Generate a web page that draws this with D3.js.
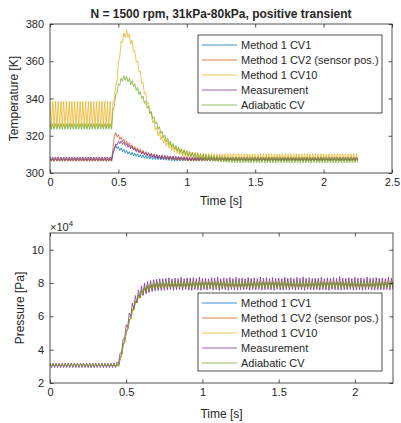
<!DOCTYPE html>
<html><head><meta charset="utf-8">
<script src="https://cdn.jsdelivr.net/npm/d3@7"></script>
<style>
body{margin:0;background:#fff}
svg text{font-family:"Liberation Sans",Arial,Helvetica,sans-serif;fill:#262626}
</style>
</head><body>
<svg id="chart" width="401" height="423"></svg>
<script>
// ---------------- DATA ----------------
const seriesNames = ["Method 1 CV1","Method 1 CV2 (sensor pos.)","Method 1 CV10","Measurement","Adiabatic CV"];
const seriesColors = ["#0072BD","#D95319","#EDB120","#7E2F8E","#77AC30"];
const chartTitle = "N = 1500 rpm, 31kPa-80kPa, positive transient";
const timeStep = 0.01; // s between samples, first sample at t = 0

// Temperature [K]
const T_CV1 = [
307.6,306.4,307.6,306.4,307.6,306.4,307.6,306.4,307.6,306.4,
307.6,306.4,307.6,306.4,307.6,306.4,307.6,306.4,307.6,306.4,
307.6,306.4,307.6,306.4,307.6,306.4,307.6,306.4,307.6,306.4,
307.6,306.4,307.6,306.4,307.6,306.4,307.6,306.4,307.6,306.4,
307.6,306.4,307.6,306.4,307.6,306.4,
310.8,313.2,315,313,314.2,312.2,313.4,311.4,312.7,310.8,
312.1,310.2,311.5,309.7,311.1,309.3,310.7,308.9,310.3,308.5,
309.9,308.2,309.6,307.9,309.4,307.7,309.2,307.5,309,307.3,
308.8,307.2,308.7,307.1,308.6,307,308.5,306.9,308.4,306.8,
308.3,306.7,308.2,306.6,308.2,
306.4,307.8,306.4,307.8,306.4,307.8,306.4,307.8,306.4,307.8,
306.4,307.8,306.4,307.8,306.4,307.8,306.4,307.8,306.4,307.8,
306.4,307.8,306.4,307.8,306.4,307.8,306.4,307.8,306.4,307.8,
306.4,307.8,306.4,307.8,306.4,307.8,306.4,307.8,306.4,307.8,
306.4,307.8,306.4,307.8,306.4,307.8,306.4,307.8,306.4,307.8,
306.4,307.8,306.4,307.8,306.4,307.8,306.4,307.8,306.4,307.8,
306.4,307.8,306.4,307.8,306.4,307.8,306.4,307.8,306.4,307.8,
306.4,307.8,306.4,307.8,306.4,307.8,306.4,307.8,306.4,307.8,
306.4,307.8,306.4,307.8,306.4,307.8,306.4,307.8,306.4,307.8,
306.4,307.8,306.4,307.8,306.4,307.8,306.4,307.8,306.4,307.8,
306.4,307.8,306.4,307.8,306.4,307.8,306.4,307.8,306.4,307.8,
306.4,307.8,306.4,307.8,306.4,307.8,306.4,307.8,306.4,307.8,
306.4,307.8,306.4,307.8,306.4,307.8,306.4,307.8,306.4,307.8,
306.4,307.8,306.4,307.8,306.4
];
const T_CV2 = [
307.8,306.3,307.8,306.3,307.8,306.3,307.8,306.3,307.8,306.3,
307.8,306.3,307.8,306.3,307.8,306.3,307.8,306.3,307.8,306.3,
307.8,306.3,307.8,306.3,307.8,306.3,307.8,306.3,307.8,306.3,
307.8,306.3,307.8,306.3,307.8,306.3,307.8,306.3,307.8,306.3,
307.8,306.3,307.8,306.3,307.8,306.3,
312.9,319.6,321.7,319.4,320.6,318.1,319.3,316.9,318.1,315.8,
317.1,314.8,316.1,313.8,315.1,312.8,314.2,312,313.4,311.2,
312.7,310.6,312.1,310,311.5,309.5,311,309,310.6,308.6,
310.2,308.2,309.9,307.9,309.6,307.7,309.4,307.5,309.2,307.3,
309,307.2,308.9,307.1,308.8,307,308.7,306.9,308.6,306.8,
308.5,306.7,308.4,306.6,308.3,
306.4,308,306.4,308,306.4,308,306.4,308,306.4,308,
306.4,308,306.4,308,306.4,308,306.4,308,306.4,308,
306.4,308,306.4,308,306.4,308,306.4,308,306.4,308,
306.4,308,306.4,308,306.4,308,306.4,308,306.4,308,
306.4,308,306.4,308,306.4,308,306.4,308,306.4,308,
306.4,308,306.4,308,306.4,308,306.4,308,306.4,308,
306.4,308,306.4,308,306.4,308,306.4,308,306.4,308,
306.4,308,306.4,308,306.4,308,306.4,308,306.4,308,
306.4,308,306.4,308,306.4,308,306.4,308,306.4,308,
306.4,308,306.4,308,306.4,308,306.4,308,306.4,308,
306.4,308,306.4,308,306.4,308,306.4,308,306.4,308,
306.4,308,306.4,308,306.4,308,306.4,308,306.4,308,
306.4,308,306.4,308,306.4
];
const T_CV10 = [
338.5,324.5,338.5,324.5,338.5,324.5,338.5,324.5,338.5,324.5,
338.5,324.5,338.5,324.5,338.5,324.5,338.5,324.5,338.5,324.5,
338.5,324.5,338.5,324.5,338.5,324.5,338.5,324.5,338.5,324.5,
338.5,324.5,338.5,324.5,338.5,324.5,338.5,324.5,338.5,324.5,
338.5,324.5,338.5,324.5,338.5,324.5,
338.7,339.3,346.7,349.3,359.7,362.3,370.7,369.8,375.2,372.8,
376.7,372.8,374.7,369.3,371.2,365.3,365.7,359.6,360.2,354.1,
354.7,348.3,348.7,342.5,343.2,337,337.7,331.8,332.7,327,
328.2,323,324.7,320,322.2,317.8,320.2,316,318.7,314.5,
317.2,313.2,316,312.1,315,311.2,314.2,310.4,313.5,309.8,
312.9,309.2,312.4,308.8,312,308.4,311.6,308.1,311.3,307.8,
311.1,307.6,310.9,307.4,310.7,307.2,310.6,307.1,310.5,307.1,
310.4,307,310.4,306.9,310.3,
306.9,310.3,306.9,310.3,306.9,310.3,306.9,310.3,306.9,310.3,
306.9,310.3,306.9,310.3,306.9,310.3,306.9,310.3,306.9,310.3,
306.9,310.3,306.9,310.3,306.9,310.3,306.9,310.3,306.9,310.3,
306.9,310.3,306.9,310.3,306.9,310.3,306.9,310.3,306.9,310.3,
306.9,310.3,306.9,310.3,306.9,310.3,306.9,310.3,306.9,310.3,
306.9,310.3,306.9,310.3,306.9,310.3,306.9,310.3,306.9,310.3,
306.9,310.3,306.9,310.3,306.9,310.3,306.9,310.3,306.9,310.3,
306.9,310.3,306.9,310.3,306.9,310.3,306.9,310.3,306.9,310.3,
306.9,310.3,306.9,310.3,306.9,310.3,306.9,310.3,306.9,310.3,
306.9,310.3,306.9,310.3,306.9,310.3,306.9,310.3,306.9,310.3,
306.9,310.3,306.9,310.3,306.9
];
const T_meas = [
308.6,307.2,308.6,307.2,308.6,307.2,308.6,307.2,308.6,307.2,
308.6,307.2,308.6,307.2,308.6,307.2,308.6,307.2,308.6,307.2,
308.6,307.2,308.6,307.2,308.6,307.2,308.6,307.2,308.6,307.2,
308.6,307.2,308.6,307.2,308.6,307.2,308.6,307.2,308.6,307.2,
308.6,307.2,308.6,307.2,308.6,307.2,
310.8,312.2,315.6,315,317.1,315.7,317.2,315.3,316.6,314.6,
315.8,313.8,315,313,314.2,312.2,313.4,311.4,312.7,310.8,
312.1,310.2,311.5,309.7,311.1,309.3,310.7,308.9,310.3,308.5,
310,308.3,309.8,308.1,309.6,307.9,309.5,307.8,309.4,307.7,
309.3,307.6,309.2,307.5,309.1,307.4,309,307.3,308.9,307.3,
308.8,307.2,308.8,307.2,308.7,
307,308.4,307,308.4,307,308.4,307,308.4,307,308.4,
307,308.4,307,308.4,307,308.4,307,308.4,307,308.4,
307,308.4,307,308.4,307,308.4,307,308.4,307,308.4,
307,308.4,307,308.4,307,308.4,307,308.4,307,308.4,
307,308.4,307,308.4,307,308.4,307,308.4,307,308.4,
307,308.4,307,308.4,307,308.4,307,308.4,307,308.4,
307,308.4,307,308.4,307,308.4,307,308.4,307,308.4,
307,308.4,307,308.4,307,308.4,307,308.4,307,308.4,
307,308.4,307,308.4,307,308.4,307,308.4,307,308.4,
307,308.4,307,308.4,307,308.4,307,308.4,307,308.4,
307,308.4,307,308.4,307,308.4,307,308.4,307,308.4,
307,308.4,307,308.4,307,308.4,307,308.4,307,308.4,
307,308.4,307,308.4,307
];
const T_adia = [
326.5,323.5,326.5,323.5,326.5,323.5,326.5,323.5,326.5,323.5,
326.5,323.5,326.5,323.5,326.5,323.5,326.5,323.5,326.5,323.5,
326.5,323.5,326.5,323.5,326.5,323.5,326.5,323.5,326.5,323.5,
326.5,323.5,326.5,323.5,326.5,323.5,326.5,323.5,326.5,323.5,
326.5,323.5,326.5,323.5,326.5,323.5,
333.3,335.7,342.3,342.7,347.8,347,351,349.3,352.3,349.7,
352,348.9,350.8,347.4,349.6,346.2,347.9,344.3,345.9,342.2,
343.7,339.9,341.3,337.4,338.7,334.7,335.9,331.9,333.1,329.1,
330.3,326.3,327.5,323.6,324.9,321.1,322.5,318.8,320.4,316.9,
318.7,315.3,317.2,313.9,315.9,312.7,314.8,311.7,313.9,310.9,
313.1,310.2,312.5,309.6,311.9,309.1,311.5,308.7,311.1,308.3,
310.7,308,310.4,307.7,310.1,307.2,310.1,307,309.9,306.8,
309.7,306.6,309.5,306.4,309.3,306.2,309.1,306,309,305.9,
308.9,305.8,308.8,305.7,308.7,305.6,
308.5,305.5,308.5,305.5,308.5,305.5,308.5,305.5,308.5,305.5,
308.5,305.5,308.5,305.5,308.5,305.5,308.5,305.5,308.5,305.5,
308.5,305.5,308.5,305.5,308.5,305.5,308.5,305.5,308.5,305.5,
308.5,305.5,308.5,305.5,308.5,305.5,308.5,305.5,308.5,305.5,
308.5,305.5,308.5,305.5,308.5,305.5,308.5,305.5,308.5,305.5,
308.5,305.5,308.5,305.5,308.5,305.5,308.5,305.5,308.5,305.5,
308.5,305.5,308.5,305.5,308.5,305.5,308.5,305.5,308.5,305.5,
308.5,305.5,308.5,305.5,308.5,305.5,308.5,305.5,308.5,305.5,
308.5,305.5,308.5,305.5,308.5,305.5,308.5,305.5,308.5,305.5,
308.5,305.5,308.5,305.5
];

// Pressure [Pa]
const P_CV1 = [
31100,30300,31100,30300,31100,30300,31100,30300,31100,30300,
31100,30300,31100,30300,31100,30300,31100,30300,31100,30300,
31100,30300,31100,30300,31100,30300,31100,30300,31100,30300,
31100,30300,31100,30300,31100,30300,31100,30300,31100,30300,
31100,30300,31100,30300,31100,30300,
34900,36900,42900,44900,50900,52400,58100,58700,64300,64000,
69200,68200,73000,71200,75700,73300,77600,74700,78800,75600,
79500,76200,80000,76600,80300,76800,80500,77000,80700,77100,
80500,77600,80500,77600,80500,77600,80500,77600,80500,77600,
80500,77600,80500,77600,80500,77600,80500,77600,80500,77600,
80500,77600,80500,77600,80500,77600,80500,77600,80500,77600,
80500,77600,80500,77600,80500,77600,80500,77600,80500,77600,
80500,77600,80500,77600,80500,77600,80500,77600,80500,77600,
80500,77600,80500,77600,80500,77600,80500,77600,80500,77600,
80500,77600,80500,77600,80500,77600,80500,77600,80500,77600,
80500,77600,80500,77600,80500,77600,80500,77600,80500,77600,
80500,77600,80500,77600,80500,77600,80500,77600,80500,77600,
80500,77600,80500,77600,80500,77600,80500,77600,80500,77600,
80500,77600,80500,77600,80500,77600,80500,77600,80500,77600,
80500,77600,80500,77600,80500,77600,80500,77600,80500,77600,
80500,77600,80500,77600,80500,77600,80500,77600,80500,77600,
80500,77600,80500,77600,80500,77600,80500,77600,80500,77600,
80500,77600,80500,77600,80500,77600,80500,77600,80500,77600
];
const P_CV2 = [
31200,30200,31200,30200,31200,30200,31200,30200,31200,30200,
31200,30200,31200,30200,31200,30200,31200,30200,31200,30200,
31200,30200,31200,30200,31200,30200,31200,30200,31200,30200,
31200,30200,31200,30200,31200,30200,31200,30200,31200,30200,
31200,30200,31200,30200,31200,30200,
34700,36700,42700,44700,50700,52200,57900,58500,64100,63800,
69000,68000,72800,71000,75500,73100,77400,74500,78600,75400,
79300,76000,79800,76400,80100,76600,80300,76800,80500,76900,
80600,77500,80600,77500,80600,77500,80600,77500,80600,77500,
80600,77500,80600,77500,80600,77500,80600,77500,80600,77500,
80600,77500,80600,77500,80600,77500,80600,77500,80600,77500,
80600,77500,80600,77500,80600,77500,80600,77500,80600,77500,
80600,77500,80600,77500,80600,77500,80600,77500,80600,77500,
80600,77500,80600,77500,80600,77500,80600,77500,80600,77500,
80600,77500,80600,77500,80600,77500,80600,77500,80600,77500,
80600,77500,80600,77500,80600,77500,80600,77500,80600,77500,
80600,77500,80600,77500,80600,77500,80600,77500,80600,77500,
80600,77500,80600,77500,80600,77500,80600,77500,80600,77500,
80600,77500,80600,77500,80600,77500,80600,77500,80600,77500,
80600,77500,80600,77500,80600,77500,80600,77500,80600,77500,
80600,77500,80600,77500,80600,77500,80600,77500,80600,77500,
80600,77500,80600,77500,80600,77500,80600,77500,80600,77500,
80600,77500,80600,77500,80600,77500,80600,77500,80600,77500
];
const P_CV10 = [
31300,30100,31300,30100,31300,30100,31300,30100,31300,30100,
31300,30100,31300,30100,31300,30100,31300,30100,31300,30100,
31300,30100,31300,30100,31300,30100,31300,30100,31300,30100,
31300,30100,31300,30100,31300,30100,31300,30100,31300,30100,
31300,30100,31300,30100,31300,30100,
34500,36500,42500,44500,50500,52000,57700,58300,63900,63600,
68800,67800,72600,70800,75300,72900,77300,74400,78600,75400,
79400,76100,80000,76600,80400,76800,80600,77000,80900,77100,
81100,77100,81100,77100,81100,77100,81100,77100,81100,77100,
81100,77100,81100,77100,81100,77100,81100,77100,81100,77100,
81100,77100,81100,77100,81100,77100,81100,77100,81100,77100,
81100,77100,81100,77100,81100,77100,81100,77100,81100,77100,
81100,77100,81100,77100,81100,77100,81100,77100,81100,77100,
81100,77100,81100,77100,81100,77100,81100,77100,81100,77100,
81100,77100,81100,77100,81100,77100,81100,77100,81100,77100,
81100,77100,81100,77100,81100,77100,81100,77100,81100,77100,
81100,77100,81100,77100,81100,77100,81100,77100,81100,77100,
81100,77100,81100,77100,81100,77100,81100,77100,81100,77100,
81100,77100,81100,77100,81100,77100,81100,77100,81100,77100,
81100,77100,81100,77100,81100,77100,81100,77100,81100,77100,
81100,77100,81100,77100,81100,77100,81100,77100,81100,77100,
81100,77100,81100,77100,81100,77100,81100,77100,81100,77100,
81100,77100,81100,77100,81100,77100,81100,77100,81100,77100
];
const P_meas = [
32000,29200,32000,29200,32000,29200,32000,29200,32000,29200,
32000,29200,32000,29200,32000,29200,32000,29200,32000,29200,
32000,29200,32000,29200,32000,29200,32000,29200,32000,29200,
32000,29200,32000,29200,32000,29200,32000,29200,32000,29200,
32000,29200,32000,29200,32500,31500,
38000,38000,46500,46500,55000,53500,62000,60000,68000,64500,
72500,68200,75700,71000,78300,72500,80000,73500,80900,74300,
81500,74800,82000,75200,82300,75400,82500,75500,82600,75600,
82800,75800,83200,76000,82500,75600,83000,75900,82700,76100,
83400,75700,82600,76200,83100,75800,82900,75500,83300,76000,
82700,75900,83600,75600,82800,76100,83000,75800,82500,76300,
83200,75700,82900,76000,83700,75500,82600,76200,83100,75900,
82800,75600,83300,76100,82700,75800,83500,75700,82900,76000,
83000,75900,82600,76200,83400,75600,82800,76000,83100,75800,
82700,76100,83600,75700,82900,75900,83200,76000,82600,75800,
83300,75600,82800,76200,83000,75900,82700,75700,83500,76000,
82900,75800,83100,76100,82600,75700,83400,75900,82800,76000,
83700,75600,82900,76200,83200,75800,82700,75900,83000,76100,
82800,75700,83500,76000,82600,75800,83100,75600,82900,76200,
83300,75900,82700,75800,83800,75700,83000,76000,82800,75900,
83200,76100,82600,75700,83400,75800,82900,76000,83100,75600,
82700,75900,83600,76200,82800,75800,83000,75700,83300,76000,
82900,75900,83100,75800,82700,76100,83400,75700,83000,75900
];
const P_adia = [
31400,30000,31400,30000,31400,30000,31400,30000,31400,30000,
31400,30000,31400,30000,31400,30000,31400,30000,31400,30000,
31400,30000,31400,30000,31400,30000,31400,30000,31400,30000,
31400,30000,31400,30000,31400,30000,31400,30000,31400,30000,
31400,30000,31400,30000,31400,30000,
35000,37000,43000,45000,51000,52500,58200,58800,64400,64100,
69300,68300,73100,71300,75800,73400,77700,74800,78900,75700,
79600,76300,80100,76700,80400,76900,80600,77100,80800,77200,
80900,77300,80900,77300,80900,77300,80900,77300,80900,77300,
80900,77300,80900,77300,80900,77300,80900,77300,80900,77300,
80900,77300,80900,77300,80900,77300,80900,77300,80900,77300,
80900,77300,80900,77300,80900,77300,80900,77300,80900,77300,
80900,77300,80900,77300,80900,77300,80900,77300,80900,77300,
80900,77300,80900,77300,80900,77300,80900,77300,80900,77300,
80900,77300,80900,77300,80900,77300,80900,77300,80900,77300,
80900,77300,80900,77300,80900,77300,80900,77300,80900,77300,
80900,77300,80900,77300,80900,77300,80900,77300,80900,77300,
80900,77300,80900,77300,80900,77300,80900,77300,80900,77300,
80900,77300,80900,77300,80900,77300,80900,77300,80900,77300,
80900,77300,80900,77300,80900,77300,80900,77300,80900,77300,
80900,77300,80900,77300,80900,77300,80900,77300,80900,77300,
80900,77300,80900,77300,80900,77300,80900,77300,80900,77300,
80900,77300,80900,77300,80900,77300,80900,77300,80900,77300
];

const tempTicks = [300,320,340,360,380];
const tempDomain = [300,380];
const timeTicksTop = [0,0.5,1,1.5,2,2.5];
const timeDomainTop = [0,2.5];
const presTicks = [20000,40000,60000,80000,100000];
const presTickLabels = ["2","4","6","8","10"];
const presDomain = [20000,110000];
const timeTicksBottom = [0,0.5,1,1.5,2];
const timeDomainBottom = [0,2.25];
const xLabel = "Time [s]";
const tempLabel = "Temperature [K]";
const presLabel = "Pressure [Pa]";

// ---------------- DRAWING ----------------
const svg = d3.select("#chart");
const axisColor = "#262626";

function drawPanel(cfg){
  const {left,right,top,bottom} = cfg.box;
  const x = d3.scaleLinear().domain(cfg.xDomain).range([left,right]);
  const y = d3.scaleLinear().domain(cfg.yDomain).range([bottom,top]);
  const g = svg.append("g");
  const clipId = "clip"+cfg.id;
  svg.append("clipPath").attr("id",clipId).append("rect")
    .attr("x",left).attr("y",top).attr("width",right-left).attr("height",bottom-top);

  const line = d3.line().x((d,i)=>x(i*timeStep)).y(d=>y(d));
  const lg = g.append("g").attr("clip-path",`url(#${clipId})`);
  cfg.series.forEach((s,k)=>{
    lg.append("path").datum(s).attr("d",line)
      .attr("fill","none").attr("stroke",seriesColors[k])
      .attr("stroke-width",0.9).attr("stroke-opacity",0.85)
      .attr("stroke-linejoin","round");
  });

  const tl = 3.5;
  const fmtX = d=>String(d);
  const ax = g.append("g").attr("transform",`translate(0,${bottom})`)
    .call(d3.axisBottom(x).tickValues(cfg.xTicks).tickFormat(fmtX).tickSizeInner(-tl).tickSizeOuter(0).tickPadding(5));
  const axT = g.append("g").attr("transform",`translate(0,${top})`)
    .call(d3.axisTop(x).tickValues(cfg.xTicks).tickFormat("").tickSizeInner(-tl).tickSizeOuter(0));
  const ay = g.append("g").attr("transform",`translate(${left},0)`)
    .call(d3.axisLeft(y).tickValues(cfg.yTicks).tickFormat((d,i)=>cfg.yLabels? cfg.yLabels[i] : String(d)).tickSizeInner(-tl).tickSizeOuter(0).tickPadding(6));
  const ayR = g.append("g").attr("transform",`translate(${right},0)`)
    .call(d3.axisRight(y).tickValues(cfg.yTicks).tickFormat("").tickSizeInner(-tl).tickSizeOuter(0));
  [ax,axT,ay,ayR].forEach(a=>{
    a.select(".domain").remove();
    a.selectAll("line").attr("stroke",axisColor).attr("stroke-width",0.8);
    a.selectAll("text").attr("font-size","11px").attr("fill",axisColor)
      .style("font-family",'"Liberation Sans",Arial,sans-serif');
  });
  g.append("rect").attr("x",left).attr("y",top).attr("width",right-left).attr("height",bottom-top)
    .attr("fill","none").attr("stroke",axisColor).attr("stroke-width",0.8);

  g.append("text").attr("x",(left+right)/2).attr("y",cfg.xLabelY)
    .attr("text-anchor","middle").attr("font-size","12px").text(xLabel);
  g.append("text").attr("transform",`translate(${cfg.yLabelX},${(top+bottom)/2}) rotate(-90)`)
    .attr("text-anchor","middle").attr("font-size","12px").text(cfg.yLabel);

  // legend
  const L = cfg.legend;
  const lgd = g.append("g");
  lgd.append("rect").attr("x",L.x).attr("y",L.y).attr("width",L.w).attr("height",L.h)
    .attr("fill","#fff").attr("stroke",axisColor).attr("stroke-width",0.8);
  seriesNames.forEach((n,k)=>{
    const yy = L.y + L.first + k*L.step;
    lgd.append("line").attr("x1",L.x+4).attr("x2",L.x+39).attr("y1",yy).attr("y2",yy)
      .attr("stroke",seriesColors[k]).attr("stroke-width",0.9).attr("stroke-opacity",0.85);
    lgd.append("text").attr("x",L.x+43).attr("y",yy).attr("dy","0.36em")
      .attr("font-size","11px").text(n);
  });
  return {x,y,g};
}

const tempPanel = drawPanel({
  id:"T", box:{left:50,right:392,top:24,bottom:173},
  xDomain:timeDomainTop, yDomain:tempDomain, xTicks:timeTicksTop, yTicks:tempTicks,
  series:[T_CV1,T_CV2,T_CV10,T_meas,T_adia],
  xLabelY:205, yLabelX:18, yLabel:tempLabel,
  legend:{x:198,y:35,w:184,h:78,first:10,step:15}
});
svg.append("text").attr("x",221).attr("y",18).attr("text-anchor","middle")
  .attr("font-size","12px").attr("font-weight","bold").text(chartTitle);

const presPanel = drawPanel({
  id:"P", box:{left:50,right:393,top:233,bottom:383},
  xDomain:timeDomainBottom, yDomain:presDomain, xTicks:timeTicksBottom, yTicks:presTicks, yLabels:presTickLabels,
  series:[P_CV1,P_CV2,P_CV10,P_meas,P_adia],
  xLabelY:418, yLabelX:24, yLabel:presLabel,
  legend:{x:198,y:293,w:184,h:78,first:10,step:15}
});
const ex = svg.append("text").attr("x",50).attr("y",231).attr("font-size","11px");
ex.append("tspan").text("\u00d710");
ex.append("tspan").attr("dy",-5).attr("font-size","8px").text("4");
</script>
</body></html>
